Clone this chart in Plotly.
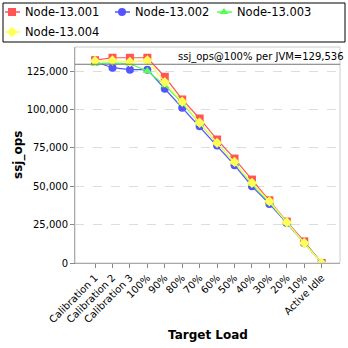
import plotly.graph_objects as go

categories = ["Calibration 1", "Calibration 2", "Calibration 3", "100%", "90%", "80%",
              "70%", "60%", "50%", "40%", "30%", "20%", "10%", "Active Idle"]
node_001 = [132200, 133800, 133800, 133800, 121400, 106600, 94200, 80500, 68100, 54400, 40900, 27000, 14100, 0]
node_002 = [131200, 127300, 126000, 126000, 113600, 101200, 89200, 76600, 63800, 50000, 38500, 26000, 12800, 0]
node_003 = [129900, 130500, 129900, 125100, 115900, 104300, 91000, 78500, 65500, 51500, 39500, 26300, 13000, 0]
node_004 = [131600, 132000, 131000, 132000, 117900, 105100, 91400, 78300, 65900, 52200, 40200, 26500, 13000, 0]
series_names = ["Node-13.001", "Node-13.002", "Node-13.003", "Node-13.004"]
ref_value = 129536
ref_label = "ssj_ops@100% per JVM=129,536"
x_title = "Target Load"
y_title = "ssj_ops"

colors = ["#FF5555", "#5555FF", "#55FF55", "#FFFF55"]
symbols = ["square", "circle", "triangle-up", "diamond"]

W = H = 348
L, R, T, B = 75, 340, 47, 263  # plot area in pixels

fig = go.Figure()
for name, vals, c, s in zip(series_names, [node_001, node_002, node_003, node_004], colors, symbols):
    fig.add_trace(go.Scatter(
        x=list(range(len(categories))), y=vals, name=name, mode="lines+markers",
        line=dict(color=c, width=1.2),
        marker=dict(color=c, symbol=s, size=8, line=dict(width=0)),
        showlegend=False, xaxis="x", yaxis="y",
    ))

# legend drawn on a pixel-coordinate overlay axis
leg_pos = [(5, 12), (115, 12), (217, 12), (5, 32)]
for (lx, ly), name, c, s in zip(leg_pos, series_names, colors, symbols):
    fig.add_shape(type="line", xref="x2", yref="y2", x0=lx, x1=lx + 15, y0=ly, y1=ly,
                  line=dict(color=c, width=1.5))
    fig.add_trace(go.Scatter(x=[lx + 7], y=[ly], mode="markers", xaxis="x2", yaxis="y2",
                             marker=dict(color=c, symbol=s, size=8, line=dict(width=0)),
                             showlegend=False, hoverinfo="skip", cliponaxis=False))
    fig.add_annotation(x=lx + 18, y=ly, xref="x2", yref="y2", text=name, showarrow=False,
                       xanchor="left", yanchor="middle",
                       font=dict(size=11.5, family="DejaVu Sans", color="black"))
fig.add_shape(type="rect", xref="x2", yref="y2", x0=3, x1=345, y0=3, y1=42,
              line=dict(color="black", width=1))

fig.add_hline(y=ref_value, line=dict(color="#777777", width=1))
fig.add_annotation(x=1, xref="paper", y=ref_value, yref="y", xanchor="right", yanchor="bottom",
                   text=ref_label, showarrow=False,
                   font=dict(size=10, color="black", family="DejaVu Sans"), yshift=-1, xshift=-2)

# axis titles
fig.add_annotation(x=(L + R) / 2, y=335, xref="x2", yref="y2", text="<b>" + x_title + "</b>",
                   showarrow=False, xanchor="center", yanchor="middle",
                   font=dict(size=12, family="DejaVu Sans", color="black"))
fig.add_annotation(x=18, y=(T + B) / 2, xref="x2", yref="y2", text="<b>" + y_title + "</b>",
                   showarrow=False, xanchor="center", yanchor="middle", textangle=-90,
                   font=dict(size=12, family="DejaVu Sans", color="black"))

# plot outline
fig.add_shape(type="rect", xref="x2", yref="y2", x0=L, x1=R, y0=T, y1=B,
              line=dict(color="#CCCCCC", width=1), layer="below")

fig.update_layout(
    width=W, height=H,
    margin=dict(l=0, r=0, t=0, b=0),
    paper_bgcolor="white", plot_bgcolor="rgba(0,0,0,0)",
    font=dict(family="DejaVu Sans", size=12, color="black"),
    showlegend=False,
    xaxis=dict(
        domain=[L / W, R / W], anchor="y",
        tickmode="array", tickvals=list(range(len(categories))), ticktext=categories,
        range=[-1.15, 14.05], tickangle=-45, showgrid=False, zeroline=False,
        showline=True, linecolor="#888888", linewidth=1,
        ticks="outside", ticklen=4, tickcolor="#888888",
        tickfont=dict(size=10, family="DejaVu Sans"), automargin=False,
    ),
    yaxis=dict(
        domain=[(H - B) / H, (H - T) / H], anchor="x",
        range=[0, 140800], tickvals=[0, 25000, 50000, 75000, 100000, 125000],
        ticktext=["0", "25,000", "50,000", "75,000", "100,000", "125,000"],
        showgrid=True, gridcolor="#DDDDDD", griddash="dash", gridwidth=1,
        zeroline=False, showline=True, linecolor="#888888", linewidth=1,
        ticks="outside", ticklen=4, tickcolor="#888888",
        tickfont=dict(size=10, family="DejaVu Sans"), automargin=False,
    ),
    xaxis2=dict(domain=[0, 1], range=[0, W], anchor="y2", visible=False, fixedrange=True),
    yaxis2=dict(domain=[0, 1], range=[H, 0], anchor="x2", visible=False, fixedrange=True),
)

fig.write_html("out.html")
